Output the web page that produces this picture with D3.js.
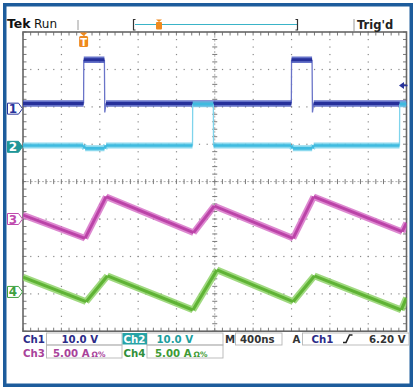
<!DOCTYPE html>
<html><head><meta charset="utf-8">
<script src="https://cdn.jsdelivr.net/npm/d3@7"></script>
<style>body{margin:0;background:#fff;}svg{display:block;}text{font-family:"DejaVu Sans",sans-serif;}</style>
</head><body><svg id="c" width="419" height="390"></svg>
<script>
// ---------- data ----------
const timePerDiv = 400;            // ns / div  (M 400ns)
const triggerTime = 632;           // ns from left edge
const triggerLevel = 6.20;         // V on Ch1

const ch1Time  = [0, 632, 634, 849, 853, 866, 2799, 2801, 3015, 3019, 3032, 4000];
const ch1Volts = [1.4, 1.4, 13.1, 13.1, -1.0, 1.4, 1.4, 13.1, 13.1, -1.0, 1.4, 1.4];

const ch2Time  = [0, 628, 648, 850, 866, 1768, 1770, 1985, 1987, 2795, 2815, 3016, 3032, 3927, 3929, 4000];
const ch2Volts = [0.35, 0.35, -0.4, -0.4, 0.35, 0.35, 11.4, 11.4, 0.35, 0.35, -0.4, -0.4, 0.35, 0.35, 11.4, 11.4];

const ch3Time = [0, 647, 867, 1779, 1995, 2817, 3032, 3955, 4000];
const ch3Amps = [0.53, -2.58, 2.98, -1.83, 1.74, -2.58, 2.98, -1.70, -0.53];

const ch4Time = [0, 658, 880, 1772, 2023, 2817, 3039, 3945, 4000];
const ch4Amps = [1.97, -1.30, 2.14, -2.41, 2.94, -1.30, 2.14, -2.41, -0.8];

const channelNames  = ["Ch1", "Ch2", "Ch3", "Ch4"];
const channelScales = [10, 10, 5, 5];          // per div
const channelUnits  = ["10.0 V", "10.0 V", "5.00 A", "5.00 A"];
const channelGround = [1.95, 0.93, -1.0, -2.95]; // div from centre
const timebaseLabel = "400ns";
const triggerLabel = "6.20 V";

// ---------- layout ----------
const svg = d3.select("#c");
const X0 = 23, X1 = 406.5, Y0 = 32, Y1 = 331.2;
const x = d3.scaleLinear().domain([0, timePerDiv * 10]).range([X0, X1]);
const yDiv = d3.scaleLinear().domain([-4, 4]).range([Y1, Y0]);
const chY = i => v => yDiv(channelGround[i] + v / channelScales[i]);

// outer frame
svg.append("rect").attr("x", 4.75).attr("y", 4.75).attr("width", 406.5).attr("height", 380.5)
  .attr("fill", "#fff").attr("stroke", "#1d5c9c").attr("stroke-width", 3.5);

// ---------- graticule ----------
const g = svg.append("g");
const minorX = d3.range(0, 10.01, 0.2), minorY = d3.range(-4, 4.01, 0.2);
for (let i = 1; i < 10; i++) {
  if (i === 5) continue;
  minorY.forEach(d => g.append("rect").attr("x", x(i * timePerDiv) - 0.5).attr("y", yDiv(d) - 0.5)
    .attr("width", 1.2).attr("height", 1.2).attr("fill", "#8a8a8a"));
}
for (let k = -3; k <= 3; k++) {
  if (k === 0) continue;
  minorX.forEach(d => g.append("rect").attr("x", x(d * timePerDiv) - 0.5).attr("y", yDiv(k) - 0.5)
    .attr("width", 1.2).attr("height", 1.2).attr("fill", "#8a8a8a"));
}
const cx = x(5 * timePerDiv), cy = yDiv(0);
g.append("line").attr("x1", X0).attr("x2", X1).attr("y1", cy).attr("y2", cy)
  .attr("stroke", "#9a9a9a").attr("stroke-width", 0.8).attr("stroke-dasharray", "2,1.8");
g.append("line").attr("x1", cx).attr("x2", cx).attr("y1", Y0).attr("y2", Y1)
  .attr("stroke", "#9a9a9a").attr("stroke-width", 0.8).attr("stroke-dasharray", "2,1.8");
minorX.forEach(d => {
  const xx = x(d * timePerDiv);
  g.append("line").attr("x1", xx).attr("x2", xx).attr("y1", cy - 2.5).attr("y2", cy + 2.5).attr("stroke", "#7a7a7a");
  g.append("line").attr("x1", xx).attr("x2", xx).attr("y1", Y0).attr("y2", Y0 + 3.5).attr("stroke", "#7a7a7a");
  g.append("line").attr("x1", xx).attr("x2", xx).attr("y1", Y1).attr("y2", Y1 - 3.5).attr("stroke", "#7a7a7a");
});
minorY.forEach(d => {
  const yy = yDiv(d);
  g.append("line").attr("x1", cx - 2.5).attr("x2", cx + 2.5).attr("y1", yy).attr("y2", yy).attr("stroke", "#7a7a7a");
  g.append("line").attr("x1", X0).attr("x2", X0 + 3.5).attr("y1", yy).attr("y2", yy).attr("stroke", "#7a7a7a");
  g.append("line").attr("x1", X1).attr("x2", X1 - 3.5).attr("y1", yy).attr("y2", yy).attr("stroke", "#7a7a7a");
});
g.append("rect").attr("x", X0).attr("y", Y0).attr("width", X1 - X0).attr("height", Y1 - Y0)
  .attr("fill", "none").attr("stroke", "#666").attr("stroke-width", 1.6);

// ---------- traces ----------
svg.append("clipPath").attr("id", "clip").append("rect")
  .attr("x", X0).attr("y", Y0).attr("width", X1 - X0).attr("height", Y1 - Y0);
const tg = svg.append("g").attr("clip-path", "url(#clip)");

function drawTrace(times, vals, idx, bandColor, coreColor, edgeColor, bandW) {
  const fy = chY(idx);
  const pts = times.map((t, i) => [x(t), fy(vals[i])]);
  const thin = d3.path(), thick = d3.path();
  for (let i = 0; i < pts.length - 1; i++) {
    const edge = times[i + 1] - times[i] <= 15;
    const p = edge ? thin : thick;
    p.moveTo(pts[i][0], pts[i][1]); p.lineTo(pts[i + 1][0], pts[i + 1][1]);
  }
  tg.append("path").attr("d", thin.toString()).attr("fill", "none").attr("stroke", edgeColor).attr("stroke-width", 1.3);
  tg.append("path").attr("d", thick.toString()).attr("fill", "none").attr("stroke", bandColor)
    .attr("stroke-width", bandW).attr("stroke-linejoin", "round").attr("opacity", 0.8);
  tg.append("path").attr("d", thick.toString()).attr("fill", "none").attr("stroke", coreColor)
    .attr("stroke-width", bandW * 0.45).attr("stroke-linejoin", "round");
}
drawTrace(ch1Time, ch1Volts, 0, "#3f4fba", "#26309a", "#6a74c8", 6.5);
drawTrace(ch2Time, ch2Volts, 1, "#6fd0ea", "#3fbbe0", "#7fd4ec", 6);
drawTrace(ch3Time, ch3Amps, 2, "#d56cc4", "#bb43a8", "#bb43a8", 6.5);
drawTrace(ch4Time, ch4Amps, 3, "#88d060", "#5fb335", "#5fb335", 6.8);

// ---------- channel ground markers ----------
const markerFill = ["#fff", "#1f9698", "#fff", "#fff"];
const markerStroke = ["#28349c", "#1f9698", "#c04aae", "#3ea040"];
const markerText = ["#28349c", "#fff", "#c04aae", "#3ea040"];
channelNames.forEach((n, i) => {
  const yy = yDiv(channelGround[i]);
  svg.append("path").attr("d", `M7.5,${yy - 5.5}H18.5L22.5,${yy}L18.5,${yy + 5.5}H7.5Z`)
    .attr("fill", markerFill[i]).attr("stroke", markerStroke[i]).attr("stroke-width", 1);
  svg.append("text").attr("x", 13).attr("y", yy + 4.5).attr("text-anchor", "middle")
    .attr("font-size", 12).attr("font-weight", "bold").attr("fill", markerText[i]).text(String(i + 1));
});

// ---------- trigger markers ----------
const tx = x(triggerTime);
svg.append("path").attr("d", `M${tx - 4},${Y0 + 0.5}H${tx + 4}L${tx},${Y0 + 4}Z`).attr("fill", "#ef8a1f");
svg.append("rect").attr("x", tx - 4.5).attr("y", Y0 + 4).attr("width", 9).attr("height", 11).attr("rx", 1.5).attr("fill", "#ef8a1f");
svg.append("text").attr("x", tx).attr("y", Y0 + 13.5).attr("text-anchor", "middle").attr("font-size", 10)
  .attr("font-weight", "bold").attr("fill", "#fff").text("T");
const ly = chY(0)(triggerLevel);
svg.append("path").attr("d", `M399,${ly}L404,${ly - 3.5}V${ly + 3.5}Z`).attr("fill", "#28349c");
svg.append("line").attr("x1", 402).attr("x2", 407.5).attr("y1", ly).attr("y2", ly).attr("stroke", "#28349c").attr("stroke-width", 1.6);

// ---------- top status bar ----------
svg.append("text").attr("x", 7).attr("y", 28).attr("font-size", 12.5).attr("font-weight", "bold").attr("fill", "#111").text("Tek");
svg.append("text").attr("x", 34).attr("y", 28).attr("font-size", 12).attr("fill", "#111").text("Run");
svg.append("line").attr("x1", 78).attr("x2", 78).attr("y1", 20).attr("y2", 30).attr("stroke", "#9a9a9a").attr("stroke-width", 1);
svg.append("line").attr("x1", 354).attr("x2", 354).attr("y1", 19).attr("y2", 31).attr("stroke", "#9a9a9a").attr("stroke-width", 1);
svg.append("line").attr("x1", 135).attr("x2", 297).attr("y1", 24.5).attr("y2", 24.5).attr("stroke", "#3ab4c8").attr("stroke-width", 1.2);
svg.append("path").attr("d", "M135.5,19.5H133.5V30H135.5").attr("fill", "none").attr("stroke", "#333").attr("stroke-width", 1.2);
svg.append("path").attr("d", "M295.5,19.5H297.5V30H295.5").attr("fill", "none").attr("stroke", "#333").attr("stroke-width", 1.2);
svg.append("path").attr("d", "M156,19.5H162L159,22Z").attr("fill", "#ef8a1f");
svg.append("rect").attr("x", 156).attr("y", 22).attr("width", 6).attr("height", 7.5).attr("rx", 1).attr("fill", "#ef8a1f");
svg.append("text").attr("x", 357).attr("y", 29).attr("font-size", 11.5).attr("font-weight", "bold").attr("fill", "#222").text("Trig'd");

// ---------- bottom readouts ----------
const labelColors = ["#2b2b88", "#fff", "#a8429a", "#2f8f3a"];
const valueColors = ["#2b2b88", "#1b9e9e", "#a8429a", "#3e9a34"];
const rowY = [342.5, 356.5];
const fs = 10.2;
const box = (x0, x1, y0, y1) => svg.append("rect").attr("x", x0).attr("y", y0).attr("width", x1 - x0).attr("height", y1 - y0)
  .attr("fill", "none").attr("stroke", "#b5b5b5").attr("stroke-width", 0.9);
box(46.5, 122, 333, 345); box(147, 223, 333, 345); box(46.5, 122, 345, 358); box(147, 223, 345, 358);
box(235.5, 282, 333, 345); box(302.5, 409, 333, 345);
svg.append("rect").attr("x", 122.5).attr("y", 333).attr("width", 24.5).attr("height", 11.5).attr("fill", "#27a3a6");
channelNames.forEach((n, i) => {
  const row = i < 2 ? 0 : 1, col = i % 2;
  const lx = col === 0 ? 23 : 123.5, vx = col === 0 ? 61.5 : 156.5;
  svg.append("text").attr("x", lx).attr("y", rowY[row]).attr("font-size", fs).attr("font-weight", "bold")
    .attr("fill", labelColors[i]).text(n);
  const vxx = i >= 2 ? (col === 0 ? 53 : 155) : vx;
  const t = svg.append("text").attr("x", vxx).attr("y", rowY[row]).attr("font-size", fs).attr("font-weight", "bold")
    .attr("fill", valueColors[i]).text(channelUnits[i]);
  if (i >= 2) t.append("tspan").attr("font-size", 7.5).attr("dx", 2).text("Ω%");
});
svg.append("text").attr("x", 225).attr("y", rowY[0]).attr("font-size", fs).attr("font-weight", "bold").attr("fill", "#333").text("M");
svg.append("text").attr("x", 240).attr("y", rowY[0]).attr("font-size", fs).attr("font-weight", "bold").attr("fill", "#333").text(timebaseLabel);
svg.append("text").attr("x", 292.5).attr("y", rowY[0]).attr("font-size", fs).attr("font-weight", "bold").attr("fill", "#333").text("A");
svg.append("text").attr("x", 311.5).attr("y", rowY[0]).attr("font-size", fs).attr("font-weight", "bold").attr("fill", "#2b2b88").text(channelNames[0]);
svg.append("path").attr("d", "M343,342.5H346L349.5,335H352.5").attr("fill", "none").attr("stroke", "#222").attr("stroke-width", 1.6);
svg.append("text").attr("x", 369).attr("y", rowY[0]).attr("font-size", fs).attr("font-weight", "bold").attr("fill", "#333").text(triggerLabel);
</script></body></html>
